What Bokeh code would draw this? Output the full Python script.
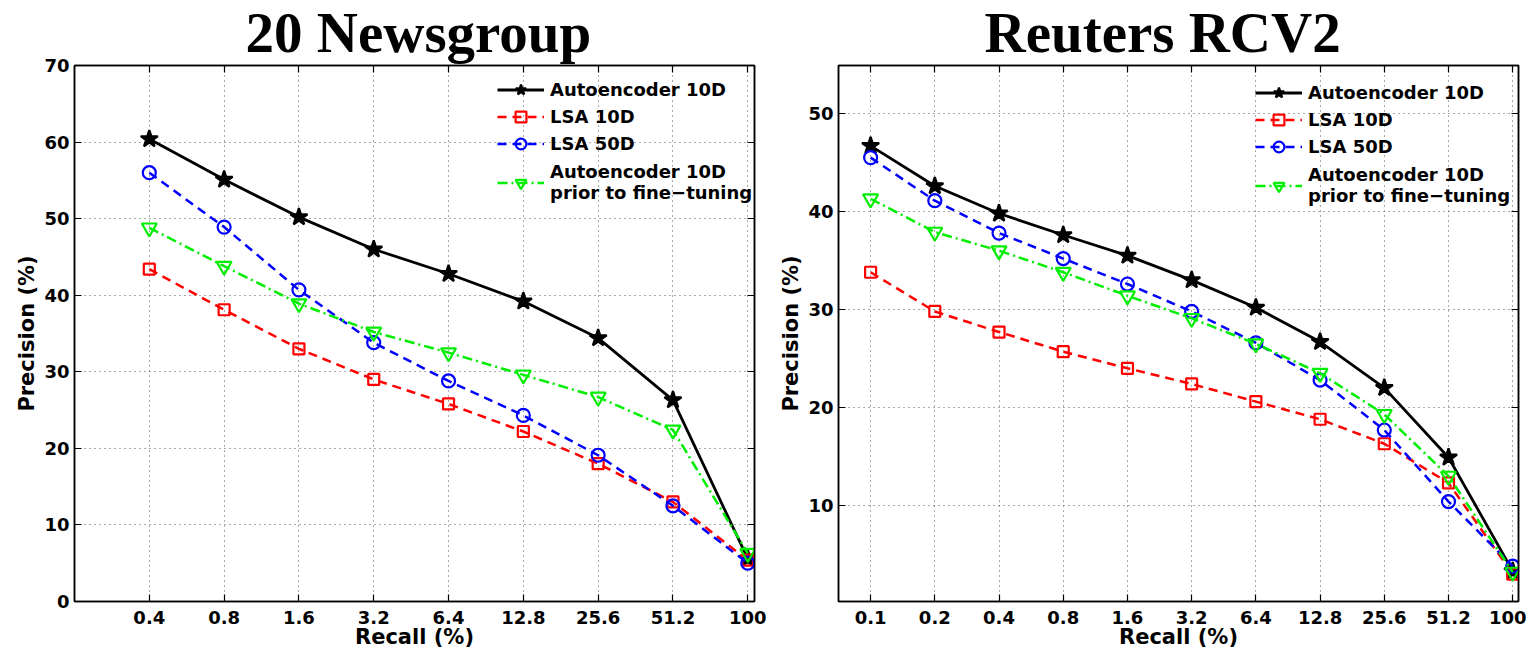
from bokeh.plotting import figure
from bokeh.models import Range1d, FixedTicker, LinearAxis, Legend, LegendItem
from bokeh.layouts import row
from bokeh.embed import file_html
from bokeh.resources import INLINE

# ---------------- data ----------------
ng_recall = ["0.4", "0.8", "1.6", "3.2", "6.4", "12.8", "25.6", "51.2", "100"]
ng_auto10 = [60.4, 55.1, 50.2, 46.0, 42.8, 39.2, 34.4, 26.3, 5.6]
ng_lsa10 = [43.4, 38.1, 33.0, 29.0, 25.8, 22.2, 18.0, 13.0, 5.4]
ng_lsa50 = [56.0, 48.9, 40.7, 33.8, 28.8, 24.3, 19.1, 12.5, 5.0]
ng_prior = [48.8, 43.8, 38.9, 35.2, 32.5, 29.6, 26.7, 22.4, 6.3]

rc_recall = ["0.1", "0.2", "0.4", "0.8", "1.6", "3.2", "6.4", "12.8", "25.6", "51.2", "100"]
rc_auto10 = [46.7, 42.6, 39.8, 37.6, 35.5, 33.0, 30.2, 26.7, 22.0, 14.9, 3.3]
rc_lsa10 = [33.8, 29.8, 27.7, 25.7, 24.0, 22.4, 20.6, 18.8, 16.3, 12.3, 3.0]
rc_lsa50 = [45.5, 41.1, 37.8, 35.2, 32.6, 29.8, 26.6, 22.8, 17.7, 10.4, 3.8]
rc_prior = [41.3, 37.9, 36.0, 33.8, 31.4, 29.1, 26.5, 23.5, 19.3, 13.0, 3.2]

series_names = ["Autoencoder 10D", "LSA 10D", "LSA 50D",
                "Autoencoder 10D\nprior to fine\u2212tuning"]

SANS = "DejaVu Sans"
SERIF = "Liberation Serif"

STYLES = [
    dict(color="black", dash="solid", marker="star", size=18, fill="black", lw=2.8),
    dict(color="#ff0000", dash="9 6", marker="square", size=11, fill=None, lw=2.5),
    dict(color="#0000ff", dash="9 6", marker="circle", size=13, fill=None, lw=2.5),
    dict(color="#00ee00", dash="10 4 2 4", marker="inverted_triangle", size=15, fill=None, lw=2.5),
]


def make_legend(items, loc):
    return Legend(items=items, location=loc,
                  label_text_font=SANS, label_text_font_style="bold",
                  label_text_font_size="18px", label_text_color="black",
                  glyph_width=47, glyph_height=27, label_standoff=6,
                  label_height=20, spacing=0, padding=0, margin=0,
                  border_line_color=None, background_fill_alpha=0)


def make_panel(title, title_offset, labels, ys, yr, xr, yticks, bl, br, leg_a, leg_b):
    FW, FH = 680, 536
    p = figure(frame_width=FW, frame_height=FH,
               min_border_left=bl, min_border_right=br,
               min_border_top=65, min_border_bottom=53,
               x_range=Range1d(*xr), y_range=Range1d(*yr),
               output_backend="svg", toolbar_location=None)
    p.xaxis.visible = False
    p.yaxis.visible = False
    xs = list(range(1, len(labels) + 1))
    xt = FixedTicker(ticks=xs)
    yt = FixedTicker(ticks=yticks)
    overrides = {x: lab for x, lab in zip(xs, labels)}

    def style_axis(ax, show_labels):
        ax.axis_line_color = "black"
        ax.axis_line_width = 1.5
        ax.major_tick_in = 7
        ax.major_tick_out = 0
        ax.major_tick_line_color = "black"
        ax.major_tick_line_width = 1.2
        ax.minor_tick_line_color = None
        if show_labels:
            ax.major_label_text_font = SANS
            ax.major_label_text_font_style = "bold"
            ax.major_label_text_font_size = "18px"
            ax.major_label_text_color = "black"
            ax.axis_label_text_font = SANS
            ax.axis_label_text_font_style = "bold"
            ax.axis_label_text_font_size = "21px"
            ax.axis_label_text_color = "black"
        else:
            ax.major_label_text_font_size = "0px"
            ax.major_label_text_color = None
            ax.major_label_standoff = 0

    bx = LinearAxis(ticker=xt, major_label_overrides=overrides, axis_label="Recall (%)")
    style_axis(bx, True)
    bx.major_label_standoff = 9
    bx.axis_label_standoff = -2
    p.add_layout(bx, "below")
    ly = LinearAxis(ticker=yt, axis_label="Precision (%)")
    style_axis(ly, True)
    ly.major_label_standoff = 5
    ly.axis_label_standoff = 2
    p.add_layout(ly, "left")
    tx = LinearAxis(ticker=xt)
    style_axis(tx, False)
    p.add_layout(tx, "above")
    ry = LinearAxis(ticker=yt)
    style_axis(ry, False)
    p.add_layout(ry, "right")

    p.title.text = title
    p.title.text_font = SERIF
    p.title.text_font_style = "bold"
    p.title.text_font_size = "57px"
    p.title.text_color = "black"
    p.title.align = "left"
    p.title.vertical_align = "top"
    p.title.offset = title_offset
    p.title.standoff = 0

    p.xgrid.ticker = xt
    p.ygrid.ticker = yt
    for g in (p.xgrid, p.ygrid):
        g.grid_line_color = "#555555"
        g.grid_line_dash = "1 4"
        g.grid_line_width = 1
    p.outline_line_color = "black"
    p.outline_line_width = 1.5
    p.background_fill_color = "white"

    items = []
    for name, y, st in zip(series_names, ys, STYLES):
        lr = p.line(xs, y, line_color=st["color"], line_width=st["lw"], line_dash=st["dash"])
        sr = p.scatter(xs, y, marker=st["marker"], size=st["size"],
                       line_color=st["color"], line_width=2.2,
                       fill_color=st["fill"], fill_alpha=1 if st["fill"] else 0)
        items.append(LegendItem(label=name, renderers=[lr, sr]))

    p.add_layout(make_legend(items[:3], leg_a), "center")
    p.add_layout(make_legend(items[3:], leg_b), "center")
    return p


p1 = make_panel("20 Newsgroup", 171, ng_recall, [ng_auto10, ng_lsa10, ng_lsa50, ng_prior],
                (0, 70), (0, 9.09), list(range(0, 71, 10)), 74, 22,
                (423, 444), (423, 398))
p2 = make_panel("Reuters RCV2", 146, rc_recall, [rc_auto10, rc_lsa10, rc_lsa50, rc_prior],
                (0.2, 54.9), (0.5, 11.09), list(range(10, 51, 10)), 60, 8,
                (417, 441), (417, 395))

layout = row(p1, p2)
open("out.html", "w").write(file_html(layout, INLINE))
